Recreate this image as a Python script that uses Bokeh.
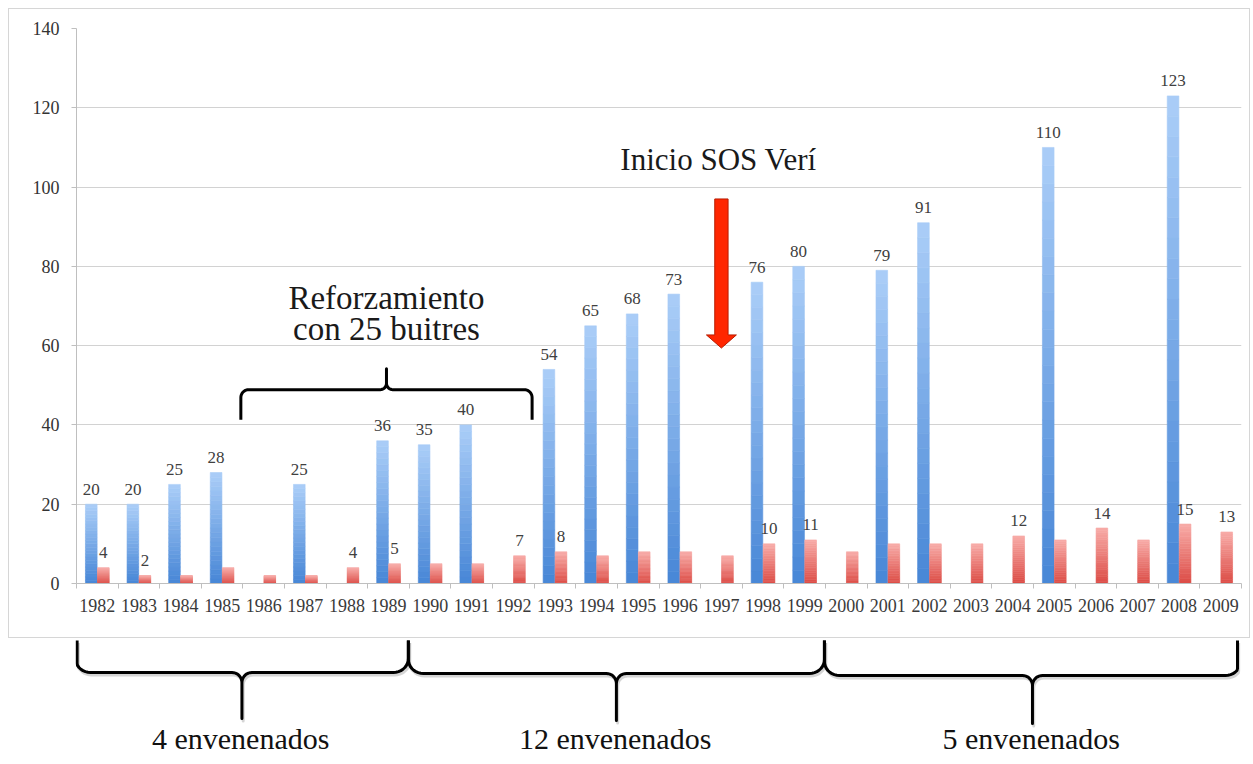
import numpy as np
from bokeh.plotting import figure
from bokeh.models import Range1d, FixedTicker, ColumnDataSource
from bokeh.layouts import column
from bokeh.embed import file_html
from bokeh.resources import INLINE
from bokeh.core.properties import value

# ---------------- data ----------------
years = [str(y) for y in range(1982, 2010)]
blue_vals = [20, 20, 25, 28, 0, 25, 0, 36, 35, 40, 0, 54, 65, 68, 73, 0,
             76, 80, 0, 79, 91, 0, 0, 110, 0, 0, 123, 0]
red_vals = [4, 2, 2, 4, 2, 2, 4, 5, 5, 5, 7, 8, 7, 8, 8, 7,
            10, 11, 8, 10, 10, 10, 12, 11, 14, 11, 15, 13]
red_labeled = ["1982", "1983", "1988", "1989", "1992", "1993", "1998",
               "1999", "2004", "2006", "2008", "2009"]
y_ticks = [0, 20, 40, 60, 80, 100, 120, 140]

arrow_year = "1997"
arrow_text = "Inicio SOS Verí"
reinf_years = ("1986", "1992")
reinf_text = ["Reforzamiento", "con 25 buitres"]
groups = [("1982", "1989", "4 envenenados"),
          ("1990", "1999", "12 envenenados"),
          ("2000", "2009", "5 envenenados")]

# ---------------- styling ----------------
FONT = "Liberation Serif"
W = 1242
H_TOP = 630
H_BOT = 118
L, R = 66, 9
n = len(years)
idx = {y: i for i, y in enumerate(years)}
BW = 0.28
OFF = 0.145

xr = Range1d(-0.5, n - 0.5)
p = figure(width=W, height=H_TOP, x_range=xr,
           y_range=Range1d(0, 140), output_backend="svg",
           toolbar_location=None, min_border_left=L, min_border_right=R,
           min_border_top=19, min_border_bottom=56,
           styles={"border": "1px solid #d6d6d6", "box-sizing": "border-box"})
p.outline_line_color = None
p.background_fill_color = "white"

# x axis
p.xaxis.ticker = FixedTicker(ticks=list(range(n)),
                             minor_ticks=[i - 0.5 for i in range(n + 1)])
p.xaxis.major_label_overrides = {i: y for i, y in enumerate(years)}
p.xaxis.major_tick_out = 0
p.xaxis.major_tick_in = 0
p.xaxis.minor_tick_out = 5
p.xaxis.minor_tick_in = 0
p.xaxis.minor_tick_line_color = "#bfbfbf"
p.xaxis.axis_line_color = "#bfbfbf"
p.xaxis.major_label_text_font = FONT
p.xaxis.major_label_text_font_size = "18px"
p.xaxis.major_label_text_color = "#3a3a3a"
p.xaxis.major_label_standoff = 10

# y axis
p.yaxis.ticker = FixedTicker(ticks=y_ticks)
p.yaxis.major_tick_out = 5
p.yaxis.major_tick_in = 0
p.yaxis.minor_tick_line_color = None
p.yaxis.major_tick_line_color = "#bfbfbf"
p.yaxis.axis_line_color = "#bfbfbf"
p.yaxis.major_label_text_font = FONT
p.yaxis.major_label_text_font_size = "18px"
p.yaxis.major_label_text_color = "#333333"
p.yaxis.major_label_standoff = 12
p.xgrid.grid_line_color = None
p.ygrid.grid_line_color = "#d2d2d2"


def hex2rgb(h):
    h = h.lstrip("#")
    return np.array([int(h[k:k + 2], 16) for k in (0, 2, 4)], dtype=float)


def grad_source(vals, offset, c_top, c_bot, nseg=24):
    ct, cb = hex2rgb(c_top), hex2rgb(c_bot)
    d = dict(left=[], right=[], bottom=[], top=[], color=[])
    for i, v in enumerate(vals):
        if v <= 0:
            continue
        for j in range(nseg):
            t = (j + 0.5) / nseg
            c = cb + (ct - cb) * t
            d["left"].append(i + offset - BW / 2)
            d["right"].append(i + offset + BW / 2)
            d["bottom"].append(v * j / nseg)
            d["top"].append(v * (j + 1) / nseg)
            d["color"].append("#%02x%02x%02x" % tuple(int(round(k)) for k in c))
    return ColumnDataSource(d)


src_b = grad_source(blue_vals, -OFF, "#abcef8", "#4786d6")
src_r = grad_source(red_vals, OFF, "#f8aca8", "#dc4c46")
p.quad(left="left", right="right", bottom="bottom", top="top", source=src_b,
       fill_color="color", line_color="color", line_width=0.6)
p.quad(left="left", right="right", bottom="bottom", top="top", source=src_r,
       fill_color="color", line_color="color", line_width=0.6)

# value labels
bl = [(i - OFF, v, str(v)) for i, v in enumerate(blue_vals) if v > 0]
rl = [(idx[y] + OFF, red_vals[idx[y]], str(red_vals[idx[y]])) for y in red_labeled]
lab = bl + rl
p.text(x=[a[0] for a in lab], y=[a[1] for a in lab], text=[a[2] for a in lab],
       text_align="center", text_baseline="middle", y_offset=-15,
       text_font=value(FONT), text_font_size="17px", text_color="#404040")

# red arrow
cx = idx[arrow_year]
sw, hw = 0.16, 0.36
top_v, base_v, tip_v = 97, 62.7, 59.4
p.patch(x=[cx - sw, cx + sw, cx + sw, cx + hw, cx, cx - hw, cx - sw],
        y=[top_v, top_v, base_v, base_v, tip_v, base_v, base_v],
        fill_color="#ff2600", line_color="#b81c00", line_width=1)
p.text(x=[cx - 0.07], y=[107.0], text=[arrow_text], text_align="center",
       text_baseline="middle", text_font=value(FONT),
       text_font_size="31px", text_color="#1a1a1a")


def brace(x0, x1, y_end, y_h, y_tip, rxc, ryc, rxt, ryt, m=10):
    xm = (x0 + x1) / 2
    se = np.sign(y_end - y_h)
    st = np.sign(y_tip - y_h)
    th = np.linspace(0, np.pi / 2, m)
    xs = [x0]
    ys = [y_end]
    xs += list(x0 + rxc * (1 - np.cos(th)))
    ys += list(y_h + se * ryc * (1 - np.sin(th)))
    xs += list(xm - rxt + rxt * np.sin(th))
    ys += list(y_h + st * ryt * (1 - np.cos(th)))
    xs.append(xm)
    ys.append(y_tip)
    rx = [2 * xm - x for x in reversed(xs[:-1])]
    ry = list(reversed(ys[:-1]))
    return xs + rx, ys + ry


# reinforcement brace
bx, by = brace(idx[reinf_years[0]] - 0.55, idx[reinf_years[1]] + 0.45,
               41.3, 48.9, 54.2, 0.19, 2.0, 0.15, 1.6)
p.line(bx, by, line_color="black", line_width=3, line_join="round")
rx_c = (bx[0] + bx[-1]) / 2
p.text(x=[rx_c, rx_c], y=[72.0, 64.2], text=reinf_text, text_align="center",
       text_baseline="middle", text_font=value(FONT),
       text_font_size="33px", text_color="#1a1a1a")

# ---------------- bottom braces ----------------
u = (W - L - R - 2) / n
p2 = figure(width=W, height=H_BOT, x_range=xr,
            y_range=Range1d(H_BOT, 0), output_backend="svg",
            toolbar_location=None, min_border_left=L + 1,
            min_border_right=R + 1, min_border_top=0, min_border_bottom=0,
            x_axis_location=None, y_axis_location=None)
p2.grid.visible = False
p2.outline_line_color = None
p2.background_fill_alpha = 0
p2.border_fill_alpha = 0

yh = [34, 35, 37]
yt = [80, 82, 85]
for k, (a, b, label) in enumerate(groups):
    x0 = idx[a] - 0.5
    x1 = idx[b] + 0.5
    xm = (x0 + x1) / 2
    gx, gy = brace(x0, x1, 2.0, yh[k], yt[k], 15 / u, 14, 10 / u, 10)
    # keep the outer ends inside the drawing area
    gx = [min(max(x, -0.5 + 1.6 / u), n - 0.5 - 3 / u) for x in gx]
    p2.line([x + 0.03 for x in gx], [y + 2.5 for y in gy], line_color="#888888",
            line_alpha=0.35, line_width=3, line_join="round")
    p2.line(gx, gy, line_color="black", line_width=3, line_join="round")
    p2.text(x=[xm - 0.03], y=[100], text=[label], text_align="center",
            text_baseline="middle", text_font=value(FONT),
            text_font_size="30px", text_color="#111111")

layout = column(p, p2, spacing=0, margin=(8, 0, 0, 8))
open("out.html", "w").write(file_html(layout, INLINE))
